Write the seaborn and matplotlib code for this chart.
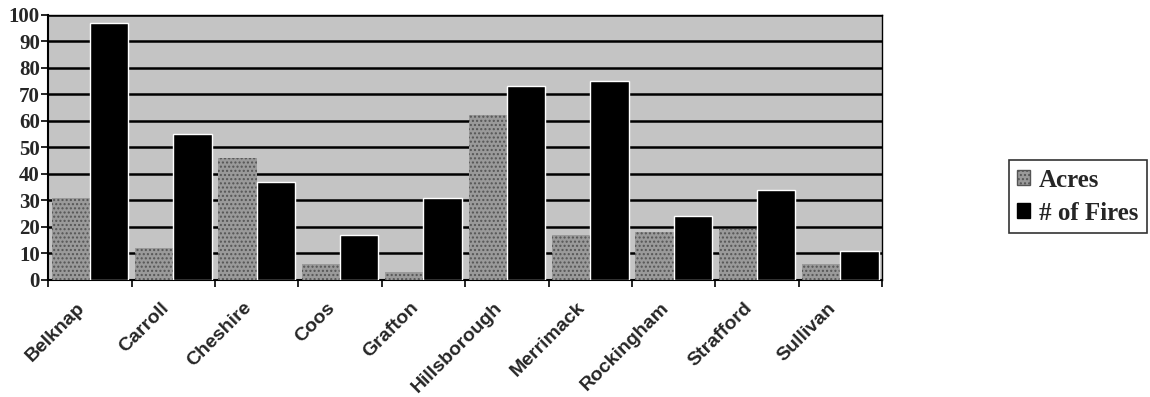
import pandas as pd
import seaborn as sns
import matplotlib.pyplot as plt
from matplotlib.patches import Patch

counties = ["Belknap", "Carroll", "Cheshire", "Coos", "Grafton",
            "Hillsborough", "Merrimack", "Rockingham", "Strafford", "Sullivan"]
acres = [31, 12, 46, 6, 3, 62, 17, 18, 19, 6]
fires = [97, 55, 37, 17, 31, 73, 75, 24, 34, 11]
y_ticks = list(range(0, 101, 10))

df = pd.DataFrame({
    "County": counties * 2,
    "Series": ["Acres"] * len(counties) + ["# of Fires"] * len(counties),
    "Value": acres + fires,
})

sns.set_style("white")
fig = plt.figure(figsize=(11.5, 3.97), dpi=100)
ax = fig.add_axes([0.042, 0.295, 0.725, 0.668])
ax.set_facecolor("#c4c4c4")

sns.barplot(data=df, x="County", y="Value", hue="Series",
            palette={"Acres": "#9a9a9a", "# of Fires": "black"},
            width=0.92, legend=False, ax=ax, zorder=3)

# speckled look for the acres bars
for bar in ax.containers[0]:
    bar.set_hatch("....")
    bar.set_edgecolor("#555555")
    bar.set_linewidth(0)

ax.set_ylim(0, 100)
ax.set_xlim(-0.5, len(counties) - 0.5)
ax.set_yticks(y_ticks)
ax.set_yticklabels([str(t) for t in y_ticks], fontfamily="Liberation Serif",
                   fontweight="bold", fontsize=15)
ax.yaxis.grid(True, color="black", linewidth=1.8, zorder=1)
ax.set_axisbelow(True)

# ticks at category boundaries, labels slightly left of centres
ax.set_xticks([i + 0.5 for i in range(-1, len(counties))], minor=True)
ax.set_xticks([i - 0.16 for i in range(len(counties))])
ax.set_xticklabels(counties, rotation=45, ha="right", rotation_mode="anchor",
                   fontfamily="Liberation Sans", fontweight="bold", fontsize=14)
ax.tick_params(axis="x", which="major", length=0, pad=14)
ax.tick_params(axis="x", which="minor", length=5, width=1.2, color="black",
               direction="out", bottom=True)
ax.tick_params(axis="y", length=5, width=1.2, color="black", direction="out",
               left=True, pad=1)
ax.set_xlabel("")
ax.set_ylabel("")
for side in ["left", "bottom"]:
    ax.spines[side].set_color("black")
    ax.spines[side].set_linewidth(1.5)
for side in ["top", "right"]:
    ax.spines[side].set_color("black")
    ax.spines[side].set_linewidth(1.0)

handles = [Patch(facecolor="#9a9a9a", edgecolor="#555555", hatch="....", label="Acres"),
           Patch(facecolor="black", edgecolor="black", label="# of Fires")]
leg = fig.legend(handles=handles, loc="upper left", bbox_to_anchor=(0.877, 0.597),
                 frameon=True, fancybox=False, handlelength=0.5, handleheight=0.55,
                 handletextpad=0.35, borderpad=0.35, labelspacing=0.4,
                 borderaxespad=0,
                 prop={"family": "Liberation Serif", "weight": "bold", "size": 18})
leg.get_frame().set_edgecolor("black")
leg.get_frame().set_linewidth(1.2)

fig.savefig("out.png", dpi=100)
